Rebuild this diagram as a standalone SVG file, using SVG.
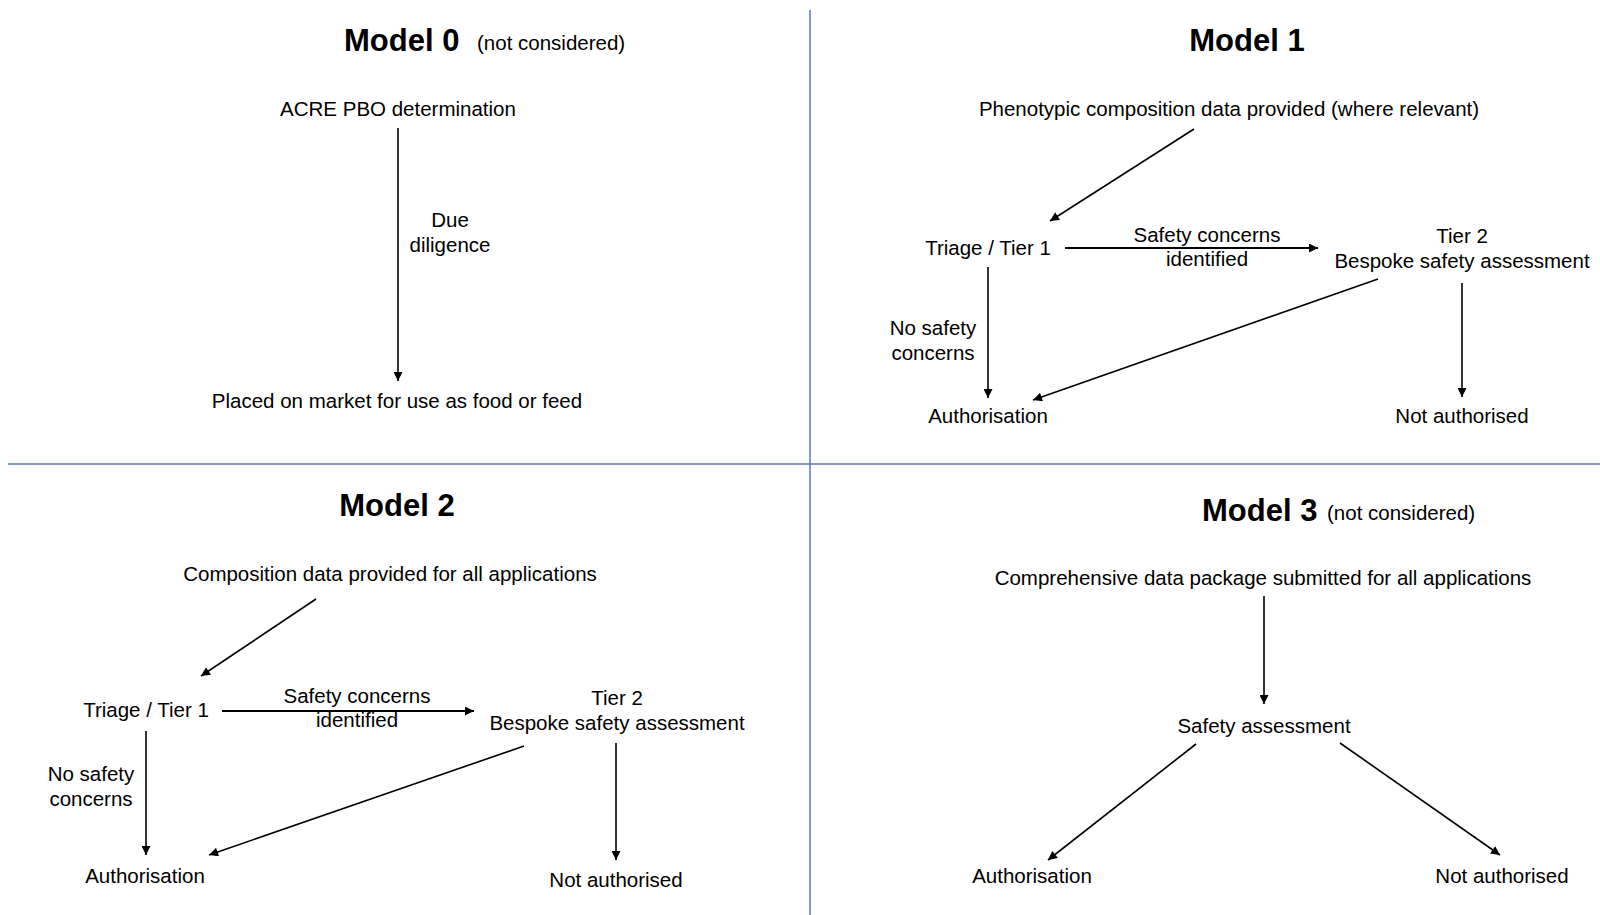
<svg xmlns="http://www.w3.org/2000/svg" width="1600" height="915" viewBox="0 0 1600 915">
<defs>
<marker id="ah" viewBox="0 0 10 10" refX="10" refY="5" markerWidth="10" markerHeight="9" markerUnits="userSpaceOnUse" orient="auto">
<path d="M0,0 L10,5 L0,10 z" fill="#000"/>
</marker>
<style>
text{font-family:"Liberation Sans",Arial,sans-serif;fill:#000;}
.t{font-size:20.5px;text-anchor:middle;}
.h{font-size:31px;font-weight:bold;}
.s{font-size:20.5px;}
.c{stroke:#000;stroke-width:1.6;fill:none;marker-end:url(#ah);}
.c2{stroke:#000;stroke-width:2.2;fill:none;marker-end:url(#ah);}
.div{stroke:#5a78b0;stroke-width:1.5;}
</style>
</defs>
<rect width="1600" height="915" fill="#fff"/>
<g id="dividers">
<line class="div" x1="810" y1="10" x2="810" y2="915"/>
<line class="div" x1="8" y1="464" x2="1600" y2="464"/>
</g>
<g id="connectors">
<line class="c" x1="398" y1="128" x2="398" y2="381"/>
<line class="c" x1="1194" y1="129" x2="1050" y2="221"/>
<line class="c2" x1="1065" y1="248" x2="1318" y2="248"/>
<line class="c" x1="988" y1="267" x2="988" y2="398"/>
<line class="c" x1="1378" y1="279" x2="1033" y2="400"/>
<line class="c" x1="1462" y1="283" x2="1462" y2="397"/>
<line class="c" x1="316" y1="599" x2="201" y2="676"/>
<line class="c2" x1="222" y1="711" x2="474" y2="711"/>
<line class="c" x1="146" y1="731" x2="146" y2="855"/>
<line class="c" x1="524" y1="746" x2="209" y2="855"/>
<line class="c" x1="616" y1="743" x2="616" y2="860"/>
<line class="c" x1="1264" y1="596" x2="1264" y2="704"/>
<line class="c" x1="1196" y1="744" x2="1048" y2="860"/>
<line class="c" x1="1340" y1="743" x2="1500" y2="855"/>
</g>
<g id="model0">
<text class="h" x="344" y="51">Model 0</text>
<text class="s" x="477" y="50">(not considered)</text>
<g id="m0-acre"><text class="t" x="398" y="116">ACRE PBO determination</text></g>
<g id="m0-dd"><text class="t" x="450" y="227">Due</text><text class="t" x="450" y="252">diligence</text></g>
<g id="m0-market"><text class="t" x="397" y="408">Placed on market for use as food or feed</text></g>
</g>
<g id="model1">
<text class="h" x="1247" y="51" text-anchor="middle">Model 1</text>
<g id="m1-pheno"><text class="t" x="1229" y="116">Phenotypic composition data provided (where relevant)</text></g>
<g id="m1-triage"><text class="t" x="988" y="255">Triage / Tier 1</text></g>
<g id="m1-sci"><text class="t" x="1207" y="242">Safety concerns</text><text class="t" x="1207" y="266">identified</text></g>
<g id="m1-tier2"><text class="t" x="1462" y="243">Tier 2</text><text class="t" x="1462" y="268">Bespoke safety assessment</text></g>
<g id="m1-nsc"><text class="t" x="933" y="335">No safety</text><text class="t" x="933" y="360">concerns</text></g>
<g id="m1-auth"><text class="t" x="988" y="423">Authorisation</text></g>
<g id="m1-notauth"><text class="t" x="1462" y="423">Not authorised</text></g>
</g>
<g id="model2">
<text class="h" x="397" y="516" text-anchor="middle">Model 2</text>
<g id="m2-comp"><text class="t" x="390" y="581">Composition data provided for all applications</text></g>
<g id="m2-triage"><text class="t" x="146" y="717">Triage / Tier 1</text></g>
<g id="m2-sci"><text class="t" x="357" y="703">Safety concerns</text><text class="t" x="357" y="727">identified</text></g>
<g id="m2-tier2"><text class="t" x="617" y="705">Tier 2</text><text class="t" x="617" y="730">Bespoke safety assessment</text></g>
<g id="m2-nsc"><text class="t" x="91" y="781">No safety</text><text class="t" x="91" y="806">concerns</text></g>
<g id="m2-auth"><text class="t" x="145" y="883">Authorisation</text></g>
<g id="m2-notauth"><text class="t" x="616" y="887">Not authorised</text></g>
</g>
<g id="model3">
<text class="h" x="1202" y="521">Model 3</text>
<text class="s" x="1327" y="520">(not considered)</text>
<g id="m3-comp"><text class="t" x="1263" y="585">Comprehensive data package submitted for all applications</text></g>
<g id="m3-sa"><text class="t" x="1264" y="733">Safety assessment</text></g>
<g id="m3-auth"><text class="t" x="1032" y="883">Authorisation</text></g>
<g id="m3-notauth"><text class="t" x="1502" y="883">Not authorised</text></g>
</g>
</svg>
